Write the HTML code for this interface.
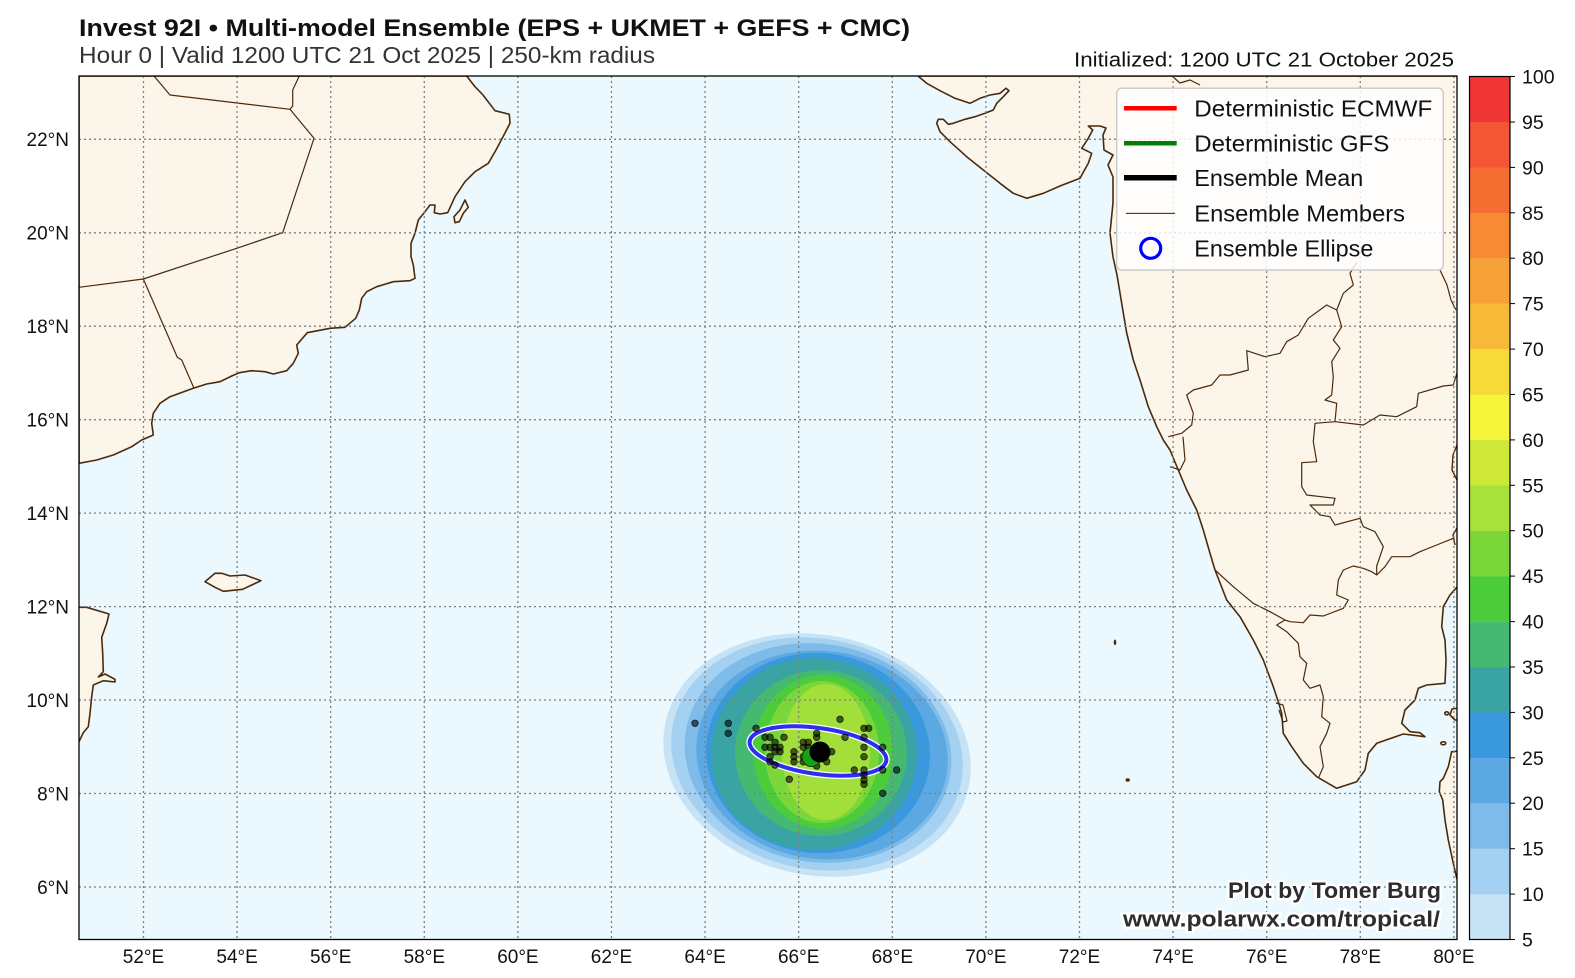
<!DOCTYPE html>
<html><head><meta charset="utf-8"><style>
html,body{margin:0;padding:0;background:#fff;}
svg{display:block;}
text{font-family:"Liberation Sans",sans-serif;}
</style></head><body>
<svg width="1575" height="978" viewBox="0 0 1575 978" xmlns="http://www.w3.org/2000/svg">
<defs><clipPath id="mc"><rect x="79" y="76" width="1378" height="863.5"/></clipPath></defs>
<rect width="1575" height="978" fill="#fff"/>
<text x="79" y="36" font-size="24" font-weight="bold" fill="#111" textLength="831" lengthAdjust="spacingAndGlyphs">Invest 92I • Multi-model Ensemble (EPS + UKMET + GEFS + CMC)</text>
<text x="79" y="63" font-size="23" fill="#333" textLength="576" lengthAdjust="spacingAndGlyphs">Hour 0 | Valid 1200 UTC 21 Oct 2025 | 250-km radius</text>
<text x="1454" y="66.5" font-size="20" fill="#111" text-anchor="end" textLength="380" lengthAdjust="spacingAndGlyphs">Initialized: 1200 UTC 21 October 2025</text>

<g clip-path="url(#mc)">
<rect x="79" y="76" width="1378" height="864" fill="#ebf8fd"/>
<!-- probability blob -->
<ellipse cx="817" cy="755" rx="155" ry="120" transform="rotate(12 817 755)" fill="#c6e3f6"/>
<ellipse cx="817" cy="754" rx="147" ry="115" transform="rotate(12 817 754)" fill="#a4d0f1"/>
<ellipse cx="818" cy="753" rx="134" ry="109" transform="rotate(10 818 753)" fill="#7ebbe9"/>
<ellipse cx="822" cy="755" rx="126" ry="104" transform="rotate(8 822 755)" fill="#5ba8e2"/>
<ellipse cx="818" cy="753" rx="112" ry="100" transform="rotate(5 818 753)" fill="#3a98dd"/>
<ellipse cx="814" cy="754" rx="103" ry="96" fill="#3aa3a3"/>
<ellipse cx="821" cy="753" rx="86" ry="83" fill="#45b872"/>
<ellipse cx="823" cy="752" rx="70" ry="77" fill="#4ccc3a"/>
<ellipse cx="822" cy="752" rx="57" ry="71" fill="#7bd63a"/>
<ellipse cx="826" cy="752" rx="44" ry="68" fill="#a2df3a"/>

<g fill="#fcf5ea" stroke="#4b2a0c" stroke-width="1.6" stroke-linejoin="round">
<!-- Arabia -->
<polygon points="79,76 466.7,76 475,86.7 483,95 495,110.7 509.3,114.3 510,123.3 503,136.7 496,150 488.3,163.3 475,171.7 465,181.7 455,196.7 447.7,212.7 440,214 434.3,212.7 435,205 430,205 425,211.7 418.3,220 415,233.3 411,243.3 411,256.7 413.3,265 415,278.3 410,280.7 393.3,281.7 376.7,286.7 366.7,291.7 361.7,298.3 359.3,310 355.7,318.3 345,327.3 330,328.3 307.3,332.7 296.7,345 298.3,353.3 293.3,363.3 286.7,370.7 273.3,374 265,371.7 251.7,370.7 239.3,372.7 231.7,376 220,381.7 206.7,384 193.3,388.3 170,396.7 160,403.3 153.3,413.3 151.7,423.3 153.3,435 141.7,440 131.7,446.7 113.3,455 96.7,460 79,463.3"/>
<polygon points="465,200 468.3,207.3 463.3,213.3 459.3,221.7 455,222.7 454,216.7 460,210"/>
<!-- Somalia -->
<polygon points="76,607.3 86.7,607.3 109,614 106.7,623.3 101.7,637.3 102.7,653.3 103.3,671.7 98.3,677 105,674 115,679.3 115,682 103.3,680.7 93.3,685 91.7,696.7 90,713.3 88.3,726.7 83.3,732.7 79,741.7 76,745"/>
<!-- Socotra -->
<polygon points="205,581.7 215,573.3 221.7,573.3 230,576 245,575 261,580.7 251.7,585 242.7,589.3 223.3,591.3 215,587.3"/>
<!-- India -->
<polygon points="918,76 926.7,83.3 940,90.7 955,98.3 970,103.3 980,98.3 990,95 1000,93.3 1006,88.3 1009,90.7 1003.3,96.7 996.7,103.3 993.3,110 985,113.3 975,116.7 965,119.3 953.3,123.3 948.3,124.3 943.3,119.3 938.3,119.3 936.7,123.3 940,131.7 950,141.7 966.7,156.7 983.3,170 1000,183.3 1013.3,193.3 1026.7,198.3 1043.3,193.3 1060,186 1080,178.3 1088.3,163.3 1091.7,153.3 1081.7,148.3 1088.3,138.3 1092.7,130 1088.3,126 1100,126 1106,128 1103,135 1104,150 1113,155 1108,165 1113,177 1113,203 1110,233 1113,257 1117,275 1120,293 1123.3,313 1126.7,333 1133.3,360 1140,380 1148.3,406.7 1156.7,426.7 1163.3,440 1170,450 1178.3,470 1186.7,490 1196.7,510 1203.3,530 1210,553.3 1215,570 1226.7,600 1240,616.7 1253.3,640 1263.3,660 1273.3,686.7 1278.3,701.7 1281.7,713.3 1283.3,733.3 1291.7,746.7 1303.3,763.3 1316.7,776.7 1336.7,788.3 1356.7,781.7 1365,770 1368.3,753.3 1376.7,743.3 1403.3,734 1425,736.7 1420,732.7 1410,731.7 1401.7,723.3 1405,710 1415,700 1418.3,688.3 1426.7,685 1445,683.3 1446,660 1445,640 1441.7,626.7 1443.3,606.7 1450,595 1457,587 1460,587 1460,76"/>
<!-- Sri Lanka -->
<polygon points="1460,751 1451.7,751.7 1448.3,766.7 1443.3,778.3 1440,781.7 1439.3,791.7 1442.7,800 1445,820 1448.3,840 1453.3,863.3 1456.7,878.3 1460,878.3"/>
<polygon points="1460,708 1452,709 1450,715 1455,720 1460,720"/>
<ellipse cx="1446.7" cy="713.3" rx="2" ry="1.5"/>
<ellipse cx="1443.3" cy="743.3" rx="2.5" ry="1.5"/>
</g>
<g fill="#4b2a0c">
<ellipse cx="1115" cy="642.3" rx="1.3" ry="2.8"/>
<ellipse cx="1127.7" cy="780" rx="2.2" ry="1.8"/>
</g>
<g fill="none" stroke="#4b2a0c" stroke-width="1.2" stroke-linejoin="round">
<polyline points="1276,703 1283,705 1287,721 1283,722 1279,710"/>
<polyline points="154,76 170,95 290,109.3 292.7,106 292.7,90 299.3,76"/>
<polyline points="290,109.3 314,138.3 282.7,232.7 236.7,248.3 143.3,279 79,287.3"/>
<polyline points="143.3,279 177.3,357.3 181.7,360 194,388.3"/>
<polyline points="1357,262 1350,273.3 1353.3,285 1343.3,293.3 1336.7,310 1326.7,305 1308.3,318.3 1298.3,335 1286.7,341.7 1280,353.3 1265,356.7 1246.7,350.7 1248.3,370 1230,375 1220,375 1211.7,385 1193.3,390 1186.7,395 1193.3,413.3 1191.7,425 1181.7,433.3 1168.3,436.7"/>
<polyline points="1183,436.7 1185,460 1180,470 1170,466.7"/>
<polyline points="1336.7,310 1341.7,326.7 1333.3,340 1340,348.3 1331.7,361.7 1333.3,376.7 1331.7,395 1325,400 1336.7,403.3 1335,421.7"/>
<polyline points="1335,421.7 1315,423.3 1313.3,441.7 1316.7,461.7 1301.7,462.7 1301.7,486.7 1306.7,495 1335,498.3 1333.3,505 1310,505 1320,515 1330,516.7 1335,525 1360,518.3 1363.3,526.7 1375,531.7 1383.3,546.7 1376.7,566 1376.7,575"/>
<polyline points="1335,421.7 1363.3,425 1380,415 1396.7,416.7 1416.7,406.7 1418.3,393.3 1443.3,386 1453.3,385 1457,373"/>
<polyline points="1215,570 1233.3,586.7 1253.3,603.3 1270,611.7 1285,620 1276.7,625 1286.7,631.7 1298.3,643.3 1300,656.7 1306.7,663.3 1303.3,680 1310,688.3 1320,685 1323.3,696.7 1321.7,716.7 1330,723.3 1326.7,733.3 1320,746.7 1323.3,766.7 1318.3,778.3"/>
<polyline points="1285,620 1290,621.7 1303.3,622.7 1310,615 1323.3,616 1343.3,608.3 1348.3,600 1336.7,595 1338.3,580 1343.3,570 1353.3,566 1363.3,568.3 1371.7,571.7 1376.7,575 1385,566.7 1391.7,556.7 1410,556.7 1420,551.7 1436.7,545 1453.3,538.3"/>
<polyline points="1440,270 1447,285 1451,300 1456,310"/>
<polyline points="1172,76 1180,83 1190,80 1200,85"/>
</g>
<g stroke="#4b2a0c" stroke-width="1.4" fill="none">
<polyline points="1457,445 1453,455 1452,470 1457,480"/>
<polyline points="1457,528 1453,535 1455,545"/>
</g>

<!-- grid -->
<g stroke="#7f7f7f" stroke-width="1.3" stroke-dasharray="2 3" fill="none">
<line x1="143.5" y1="76" x2="143.5" y2="940"/><line x1="237.1" y1="76" x2="237.1" y2="940"/>
<line x1="330.7" y1="76" x2="330.7" y2="940"/><line x1="424.3" y1="76" x2="424.3" y2="940"/>
<line x1="517.9" y1="76" x2="517.9" y2="940"/><line x1="611.5" y1="76" x2="611.5" y2="940"/>
<line x1="705.1" y1="76" x2="705.1" y2="940"/><line x1="798.7" y1="76" x2="798.7" y2="940"/>
<line x1="892.3" y1="76" x2="892.3" y2="940"/><line x1="985.9" y1="76" x2="985.9" y2="940"/>
<line x1="1079.5" y1="76" x2="1079.5" y2="940"/><line x1="1173.1" y1="76" x2="1173.1" y2="940"/>
<line x1="1266.7" y1="76" x2="1266.7" y2="940"/><line x1="1360.3" y1="76" x2="1360.3" y2="940"/>
<line x1="1453.9" y1="76" x2="1453.9" y2="940"/>
<line x1="79" y1="139.3" x2="1457" y2="139.3"/><line x1="79" y1="232.8" x2="1457" y2="232.8"/>
<line x1="79" y1="326.2" x2="1457" y2="326.2"/><line x1="79" y1="419.7" x2="1457" y2="419.7"/>
<line x1="79" y1="513.1" x2="1457" y2="513.1"/><line x1="79" y1="606.6" x2="1457" y2="606.6"/>
<line x1="79" y1="700" x2="1457" y2="700"/><line x1="79" y1="793.5" x2="1457" y2="793.5"/>
<line x1="79" y1="887" x2="1457" y2="887"/>
</g>

<!-- ellipse -->
<ellipse cx="818" cy="751" rx="69" ry="23" transform="rotate(8 818 751)" fill="none" stroke="#ffffff" stroke-width="6.5"/>
<ellipse cx="818" cy="751" rx="69" ry="23" transform="rotate(8 818 751)" fill="none" stroke="#2e2ef2" stroke-width="4"/>

<!-- members -->
<g fill="#000" fill-opacity="0.6" stroke="#000" stroke-opacity="0.75" stroke-width="0.8">
<circle cx="695" cy="723.3" r="3.3"/><circle cx="728.3" cy="723.3" r="3.3"/><circle cx="728.3" cy="733.3" r="3.3"/>
<circle cx="756" cy="728.3" r="3.3"/><circle cx="765" cy="737.3" r="3.3"/><circle cx="770" cy="737.3" r="3.3"/>
<circle cx="784" cy="737.3" r="3.3"/><circle cx="775" cy="742.3" r="3.3"/><circle cx="765" cy="747.3" r="3.3"/>
<circle cx="770" cy="747.3" r="3.3"/><circle cx="775" cy="747.3" r="3.3"/><circle cx="780" cy="747.3" r="3.3"/>
<circle cx="775" cy="751.7" r="3.3"/><circle cx="780" cy="751.7" r="3.3"/><circle cx="770" cy="756.7" r="3.3"/>
<circle cx="770" cy="761.7" r="3.3"/><circle cx="775" cy="765" r="3.3"/><circle cx="789.3" cy="779.3" r="3.3"/>
<circle cx="794" cy="751.7" r="3.3"/><circle cx="794" cy="756.7" r="3.3"/><circle cx="794" cy="761.7" r="3.3"/>
<circle cx="803.3" cy="742.3" r="3.3"/><circle cx="808.3" cy="742.3" r="3.3"/><circle cx="803.3" cy="747.3" r="3.3"/>
<circle cx="808.3" cy="747.3" r="3.3"/><circle cx="803.3" cy="756.7" r="3.3"/><circle cx="803.3" cy="761.7" r="3.3"/>
<circle cx="816.7" cy="733.3" r="3.3"/><circle cx="816.7" cy="737.3" r="3.3"/><circle cx="831.7" cy="751.7" r="3.3"/>
<circle cx="826.7" cy="761.7" r="3.3"/><circle cx="816.7" cy="766" r="3.3"/><circle cx="840" cy="719.3" r="3.3"/>
<circle cx="845" cy="737.3" r="3.3"/><circle cx="864" cy="728.3" r="3.3"/><circle cx="868.7" cy="728.3" r="3.3"/>
<circle cx="864" cy="737.3" r="3.3"/><circle cx="864" cy="747.3" r="3.3"/><circle cx="864" cy="756.7" r="3.3"/>
<circle cx="864" cy="770" r="3.3"/><circle cx="864" cy="775" r="3.3"/><circle cx="864" cy="780" r="3.3"/>
<circle cx="864" cy="784.3" r="3.3"/><circle cx="854.3" cy="770" r="3.3"/><circle cx="882.7" cy="747.3" r="3.3"/>
<circle cx="882.7" cy="770" r="3.3"/><circle cx="896.7" cy="770" r="3.3"/><circle cx="882.7" cy="793.3" r="3.3"/>
</g>
<circle cx="811.5" cy="757" r="9.5" fill="#15a015" stroke="#0a3a0a" stroke-width="1"/>
<circle cx="820" cy="752" r="10.5" fill="#000"/>

<!-- watermark -->
<g font-weight="bold" fill="#2d2d2d" stroke="#ffffff" stroke-width="5" stroke-linejoin="round" paint-order="stroke">
<text x="1441" y="898" font-size="22" text-anchor="end" textLength="213" lengthAdjust="spacingAndGlyphs">Plot by Tomer Burg</text>
<text x="1440" y="926.5" font-size="22" text-anchor="end" textLength="317" lengthAdjust="spacingAndGlyphs">www.polarwx.com/tropical/</text>
</g>
</g>

<!-- legend -->
<rect x="1116.7" y="88.3" width="326.6" height="181.7" rx="5" fill="#ffffff" fill-opacity="0.82" stroke="#cccccc" stroke-width="1.5"/>
<line x1="1124" y1="108.3" x2="1176.7" y2="108.3" stroke="#ff0000" stroke-width="4.5"/>
<line x1="1124" y1="143.3" x2="1176.7" y2="143.3" stroke="#008000" stroke-width="4.5"/>
<line x1="1124" y1="177.7" x2="1176.7" y2="177.7" stroke="#000000" stroke-width="5.5"/>
<line x1="1126" y1="213.3" x2="1175" y2="213.3" stroke="#000000" stroke-width="0.9"/>
<circle cx="1150.7" cy="248.3" r="10" fill="none" stroke="#0000ff" stroke-width="3.2"/>
<g font-size="23" fill="#111">
<text x="1194.3" y="116.5" textLength="238" lengthAdjust="spacingAndGlyphs">Deterministic ECMWF</text>
<text x="1194.3" y="151.5" textLength="195" lengthAdjust="spacingAndGlyphs">Deterministic GFS</text>
<text x="1194.3" y="186" textLength="169" lengthAdjust="spacingAndGlyphs">Ensemble Mean</text>
<text x="1194.3" y="221.5" textLength="210.7" lengthAdjust="spacingAndGlyphs">Ensemble Members</text>
<text x="1194.3" y="256.5" textLength="179" lengthAdjust="spacingAndGlyphs">Ensemble Ellipse</text>
</g>

<!-- frame -->
<rect x="79" y="76" width="1378" height="863.5" fill="none" stroke="#000" stroke-width="1.3"/>

<!-- axis labels -->
<g font-size="19" fill="#111" text-anchor="middle">
<text x="143.5" y="963">52°E</text><text x="237.1" y="963">54°E</text><text x="330.7" y="963">56°E</text>
<text x="424.3" y="963">58°E</text><text x="517.9" y="963">60°E</text><text x="611.5" y="963">62°E</text>
<text x="705.1" y="963">64°E</text><text x="798.7" y="963">66°E</text><text x="892.3" y="963">68°E</text>
<text x="985.9" y="963">70°E</text><text x="1079.5" y="963">72°E</text><text x="1173.1" y="963">74°E</text>
<text x="1266.7" y="963">76°E</text><text x="1360.3" y="963">78°E</text><text x="1453.9" y="963">80°E</text>
</g>
<g font-size="19" fill="#111" text-anchor="end">
<text x="69" y="146">22°N</text><text x="69" y="239.5">20°N</text><text x="69" y="333">18°N</text>
<text x="69" y="426.5">16°N</text><text x="69" y="520">14°N</text><text x="69" y="613.5">12°N</text>
<text x="69" y="707">10°N</text><text x="69" y="800.5">8°N</text><text x="69" y="894">6°N</text>
</g>

<!-- colorbar -->
<g>
<rect x="1469.5" y="894.1" width="40.5" height="45.6" fill="#c6e3f6"/>
<rect x="1469.5" y="848.7" width="40.5" height="45.6" fill="#a4d0f1"/>
<rect x="1469.5" y="803.2" width="40.5" height="45.6" fill="#7ebbe9"/>
<rect x="1469.5" y="757.8" width="40.5" height="45.6" fill="#5ba8e2"/>
<rect x="1469.5" y="712.4" width="40.5" height="45.6" fill="#3a98dd"/>
<rect x="1469.5" y="667.0" width="40.5" height="45.6" fill="#3aa3a3"/>
<rect x="1469.5" y="621.6" width="40.5" height="45.6" fill="#45b872"/>
<rect x="1469.5" y="576.1" width="40.5" height="45.6" fill="#4ccc3a"/>
<rect x="1469.5" y="530.7" width="40.5" height="45.6" fill="#7bd63a"/>
<rect x="1469.5" y="485.3" width="40.5" height="45.6" fill="#a8e13a"/>
<rect x="1469.5" y="439.9" width="40.5" height="45.6" fill="#cde837"/>
<rect x="1469.5" y="394.5" width="40.5" height="45.6" fill="#f5f53b"/>
<rect x="1469.5" y="349.1" width="40.5" height="45.6" fill="#f5da3a"/>
<rect x="1469.5" y="303.6" width="40.5" height="45.6" fill="#f7ba38"/>
<rect x="1469.5" y="258.2" width="40.5" height="45.6" fill="#f7a236"/>
<rect x="1469.5" y="212.8" width="40.5" height="45.6" fill="#f78a32"/>
<rect x="1469.5" y="167.4" width="40.5" height="45.6" fill="#f56e31"/>
<rect x="1469.5" y="122.0" width="40.5" height="45.6" fill="#f35535"/>
<rect x="1469.5" y="76.5" width="40.5" height="45.5" fill="#ef3535"/>
<rect x="1469.5" y="76.5" width="40.5" height="863" fill="none" stroke="#000" stroke-width="1.2"/>
<g stroke="#000" stroke-width="1">
<line x1="1510" y1="939.5" x2="1515" y2="939.5"/><line x1="1510" y1="894.1" x2="1515" y2="894.1"/>
<line x1="1510" y1="848.7" x2="1515" y2="848.7"/><line x1="1510" y1="803.2" x2="1515" y2="803.2"/>
<line x1="1510" y1="757.8" x2="1515" y2="757.8"/><line x1="1510" y1="712.4" x2="1515" y2="712.4"/>
<line x1="1510" y1="667.0" x2="1515" y2="667.0"/><line x1="1510" y1="621.6" x2="1515" y2="621.6"/>
<line x1="1510" y1="576.1" x2="1515" y2="576.1"/><line x1="1510" y1="530.7" x2="1515" y2="530.7"/>
<line x1="1510" y1="485.3" x2="1515" y2="485.3"/><line x1="1510" y1="439.9" x2="1515" y2="439.9"/>
<line x1="1510" y1="394.5" x2="1515" y2="394.5"/><line x1="1510" y1="349.1" x2="1515" y2="349.1"/>
<line x1="1510" y1="303.6" x2="1515" y2="303.6"/><line x1="1510" y1="258.2" x2="1515" y2="258.2"/>
<line x1="1510" y1="212.8" x2="1515" y2="212.8"/><line x1="1510" y1="167.4" x2="1515" y2="167.4"/>
<line x1="1510" y1="122.0" x2="1515" y2="122.0"/><line x1="1510" y1="76.5" x2="1515" y2="76.5"/>
</g>
<g font-size="19.5" fill="#111">
<text x="1522" y="946.5">5</text><text x="1522" y="901">10</text><text x="1522" y="855.7">15</text>
<text x="1522" y="810.2">20</text><text x="1522" y="764.8">25</text><text x="1522" y="719.4">30</text>
<text x="1522" y="674">35</text><text x="1522" y="628.6">40</text><text x="1522" y="583.1">45</text>
<text x="1522" y="537.7">50</text><text x="1522" y="492.3">55</text><text x="1522" y="446.9">60</text>
<text x="1522" y="401.5">65</text><text x="1522" y="356.1">70</text><text x="1522" y="310.6">75</text>
<text x="1522" y="265.2">80</text><text x="1522" y="219.8">85</text><text x="1522" y="174.4">90</text>
<text x="1522" y="129">95</text><text x="1522" y="83.5">100</text>
</g>
</g>
</svg>
</body></html>
